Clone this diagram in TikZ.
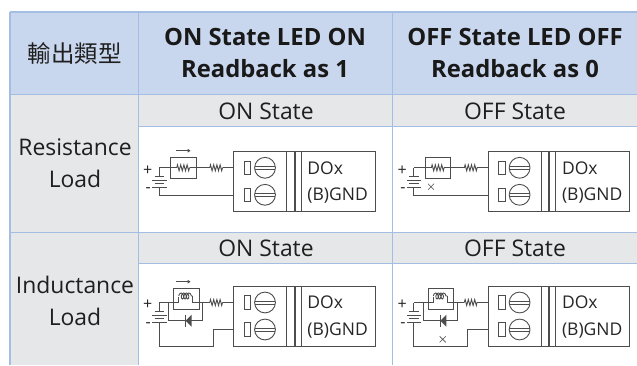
\documentclass[tikz,border=0pt]{standalone}
\usepackage{fontspec}
\setmainfont{Open Sans}
\newfontfamily\cjk{Noto Sans CJK TC}
\usetikzlibrary{arrows.meta,decorations.pathmorphing}
\definecolor{gridblue}{HTML}{A3BEE2}
\definecolor{headblue}{HTML}{C9D7EE}
\definecolor{cellgray}{HTML}{E6E7E8}
\definecolor{wiregray}{HTML}{4D4D4D}
\tikzset{
  wire/.style={draw=wiregray, line width=.9pt},
  grid line/.style={draw=gridblue, line width=.9pt},
  head/.style={font=\bfseries\fontsize{23.8}{32}\selectfont, align=center, text=black!90},
  cell/.style={font=\fontsize{22.9}{32}\selectfont, align=center, text=black!88},
  pinlabel/.style={font=\fontsize{17.5}{18}\selectfont, anchor=west, text=black!85, inner sep=0pt},
  small/.style={font=\fontsize{16}{16}\selectfont, text=black!85, inner sep=0pt},
  zig/.style={decorate, decoration={zigzag, segment length=3.2pt, amplitude=3pt}},
  pics/ioblock/.style={code={
    \draw[wire] (0,0) rectangle (141.6,60.4);
    \draw[wire] (53,0) -- (53,60.4) (67.3,0) -- (67.3,60.4);
    \draw[wire, line width=2pt] (61,0) -- (61,60.4);
    \foreach \y in {16.5,43.5} {
      \draw[wire] (10.3,\y-6.7) rectangle (17,\y+6.7);
      \draw[wire] (31.3,\y) circle [radius=10.4];
      \draw[wire] (21,\y-1.5) -- (41.6,\y-1.5) (21,\y+1.5) -- (41.6,\y+1.5);
    }
    \node[pinlabel, name=-dox] at (73.5,16.5) {DOx};
    \node[pinlabel, name=-gnd] at (73.5,44.5) {(B)GND};
    % battery
    \draw[wire] (-74.4,16.5) -- (-74.4,25);
    \draw[wire] (-79,25.5) -- (-69.5,25.5);
    \draw[wire] (-81.5,29) -- (-67,29);
    \draw[wire] (-79,32.5) -- (-69.5,32.5);
    \draw[wire] (-81.5,36) -- (-67,36);
    \draw[wire] (-74.4,36) -- (-74.4,38);
    \node[small, name=-plus] at (-86,19) {+};
    \node[small, name=-minus] at (-85.4,39) {-};
  }},
  pics/resload/.style={code={
    % resistor in a box, then the series resistor
    \draw[wire] (-63,6) rectangle (-37.4,27);
    \draw[wire] (-74.4,16.5) -- (-57,16.5);
    \draw[wire, zig] (-57,16.5) -- (-44,16.5);
    \draw[wire] (-44,16.5) -- (-24,16.5);
    \draw[wire, zig] (-24,16.5) -- (-11,16.5);
    \draw[wire] (-11,16.5) -- (0,16.5);
    \draw[wire] (-74.4,38) -- (-74.4,44) -- (0,44);
  }},
  pics/indload/.style={code={
    % inductor in a box, with the diode across it
    \draw[wire] (-60,2.3) rectangle (-34.4,23.3);
    \draw[wire] (-74.4,16.5) -- (-55,16.5) -- (-55,11);
    \draw[wire, decorate, decoration={coil, aspect=.6, segment length=2.6pt, amplitude=3pt}] (-55,10) -- (-41,10);
    \draw[wire] (-41,10) -- (-41,16.5) -- (-24,16.5);
    \draw[wire, zig] (-24,16.5) -- (-11,16.5);
    \draw[wire] (-11,16.5) -- (0,16.5);
    \draw[wire] (-65,16.5) -- (-65,34.7) -- (-31,34.7) -- (-31,16.5);
    \fill[wiregray] (-48,34.7) -- (-42,28.7) -- (-42,40.7) -- cycle;
    \draw[wire, line width=1.2pt] (-48,28.7) -- (-48,40.7);
    \draw[wire] (-74.4,38) -- (-74.4,60.7) -- (-20.4,60.7) -- (-20.4,43.5) -- (0,43.5);
  }},
  pics/flowarrow/.style={code={
    \draw[wire, line width=1.1pt, -{Latex[length=3pt,width=4pt]}] (-15,0) -- (0,0);
  }},
  pics/offmark/.style={code={
    \draw[wire, line width=.6pt] (-3,-3) -- (3,3) (-3,3) -- (3,-3);
  }}
}
\begin{document}
\begin{tikzpicture}[x=1pt,y=-1pt]
\useasboundingbox (0,0) rectangle (637,365);
\fill[white] (0,0) rectangle (637,365);
% fills
\fill[headblue] (10,12) rectangle (637,94.5);
\fill[cellgray] (10,94.5) rectangle (138.5,365);
\fill[cellgray] (138.5,94.5) rectangle (637,126);
\fill[cellgray] (138.5,232.5) rectangle (637,263);
% grid
\draw[grid line, line width=1.6pt] (10,12) -- (637,12);
\draw[grid line, line width=1.6pt] (10,12) -- (10,365);
\foreach \x in {138.5,392.7} \draw[grid line] (\x,12) -- (\x,365);
\foreach \y in {94.5,232.5} \draw[grid line] (10,\y) -- (637,\y);
\foreach \y in {126,263} \draw[grid line] (138.5,\y) -- (637,\y);
% header
\node[cell, font=\cjk\fontsize{23.5}{28}\selectfont] (type) at (74.5,54) {輸出類型};
\node[head] (onhead) at (265,53) {ON State LED ON\\Readback as 1};
\node[head] (offhead) at (515,53) {OFF State LED OFF\\Readback as 0};
% rows
\node[cell] (resist) at (75,163.5) {Resistance\\Load};
\node[cell] (induct) at (75,301) {Inductance\\Load};
\node[cell] (onres) at (266,111) {ON State};
\node[cell] (offres) at (515,111) {OFF State};
\node[cell] (onind) at (266,248) {ON State};
\node[cell] (offind) at (515,248) {OFF State};
% circuits
\pic (a) at (233.7,151.3) {ioblock};
\pic (b) at (488.3,151.3) {ioblock};
\pic (c) at (233.7,286) {ioblock};
\pic (d) at (488.3,286) {ioblock};
\pic at (233.7,151.3) {resload};
\pic at (488.3,151.3) {resload};
\pic at (233.7,286) {indload};
\pic at (488.3,286) {indload};
\pic at (190.7,150.7) {flowarrow};
\pic at (190.7,281.7) {flowarrow};
\pic at (431,186.7) {offmark};
\pic at (442.7,339.3) {offmark};
\end{tikzpicture}
\end{document}
